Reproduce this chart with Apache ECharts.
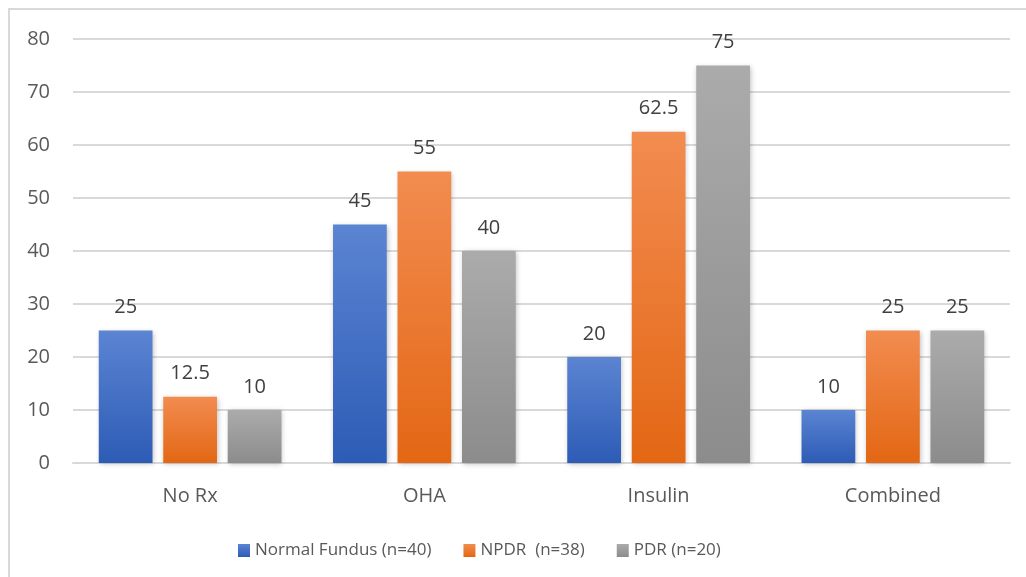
<!DOCTYPE html>
<html>
<head>
<meta charset="utf-8">
<script src="https://cdn.jsdelivr.net/npm/echarts@6/dist/echarts.min.js"></script>
<style>
  html, body { margin: 0; padding: 0; background: #fff; }
  #chart { width: 1026px; height: 577px; }
</style>
</head>
<body>
<div id="chart"></div>
<script>
// Treatment groups on the x axis
const categories = ['No Rx', 'OHA', 'Insulin', 'Combined'];

// Percentages per fundus finding
const normalFundus = [25, 45, 20, 10];
const npdr = [12.5, 55, 62.5, 25];
const pdr = [10, 40, 75, 25];

const seriesNames = ['Normal Fundus (n=40)', 'NPDR  (n=38)', 'PDR (n=20)'];

const yTicks = { min: 0, max: 80, interval: 10 };

const FONT = '"Open Sans", Lato, sans-serif';

function grad(top, bottom) {
  return new echarts.graphic.LinearGradient(0, 0, 0, 1, [
    { offset: 0, color: top },
    { offset: 1, color: bottom }
  ]);
}

const palettes = [
  ['#5b84d2', '#2d5cb6'],
  ['#f28c50', '#e36714'],
  ['#ababab', '#8c8c8c']
];
const legendColors = ['#3d6cc4', '#ed7a30', '#9e9e9e'];

function barSeries(name, data, idx) {
  return {
    name: name,
    type: 'bar',
    data: data,
    barGap: '20%',
    barCategoryGap: '22%',
    itemStyle: {
      color: grad(palettes[idx][0], palettes[idx][1]),
      shadowColor: 'rgba(0,0,0,0.25)',
      shadowBlur: 5,
      shadowOffsetX: 1,
      shadowOffsetY: 1
    },
    label: {
      show: true,
      position: 'top',
      distance: 13,
      color: '#404040',
      fontFamily: FONT,
      fontSize: 20
    }
  };
}

const chart = echarts.init(document.getElementById('chart'), null, { renderer: 'canvas' });

chart.setOption({
  animation: false,
  color: legendColors,
  graphic: [{
    type: 'rect',
    shape: { x: 9, y: 9, width: 1040, height: 600 },
    style: { fill: 'none', stroke: '#d9d9d9', lineWidth: 2 },
    silent: true,
    z: -1
  }],
  grid: { left: 73, right: 16, top: 39, bottom: 114 },
  legend: {
    left: 233,
    top: 537,
    itemWidth: 12,
    itemHeight: 13,
    itemGap: 32,
    icon: 'rect',
    textStyle: { color: '#595959', fontFamily: FONT, fontSize: 17 },
    data: seriesNames
  },
  xAxis: {
    type: 'category',
    data: categories,
    axisTick: { show: false },
    axisLine: { lineStyle: { color: '#d9d9d9', width: 2 } },
    axisLabel: { color: '#595959', fontFamily: FONT, fontSize: 20, margin: 23 }
  },
  yAxis: {
    type: 'value',
    min: yTicks.min,
    max: yTicks.max,
    interval: yTicks.interval,
    axisLine: { show: false },
    axisTick: { show: false },
    splitLine: { lineStyle: { color: '#d9d9d9', width: 2 } },
    axisLabel: { color: '#595959', fontFamily: FONT, fontSize: 20, margin: 23 }
  },
  series: [
    barSeries(seriesNames[0], normalFundus, 0),
    barSeries(seriesNames[1], npdr, 1),
    barSeries(seriesNames[2], pdr, 2)
  ]
});
</script>
</body>
</html>
